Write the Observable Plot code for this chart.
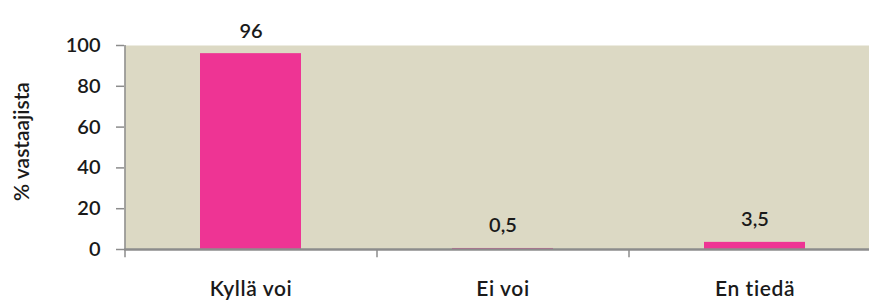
<!DOCTYPE html>
<html>
<head>
<meta charset="utf-8">
<script src="https://cdn.jsdelivr.net/npm/d3@7"></script>
<script src="https://cdn.jsdelivr.net/npm/@observablehq/plot@0.6"></script>
<style>
  html, body { margin: 0; padding: 0; background: #ffffff; }
  svg text { font-weight: 600; }
  g[aria-label="ylabel"] text { letter-spacing: 1.2px; }
  g[aria-label="x-axis tick label"] text { letter-spacing: 0.6px; }
</style>
</head>
<body>
<div id="chart"></div>
<script>
const categories = ["Kyllä voi", "Ei voi", "En tiedä"];
const values = [96, 0.5, 3.5];
const yTicks = [0, 20, 40, 60, 80, 100];
const yLabel = "% vastaajista";

const data = categories.map((c, i) => ({ c, v: values[i] }));
const fmt = v => String(v).replace(".", ",");

const xRange = [124, 880];
const step = (xRange[1] - xRange[0]) / categories.length;
const axisGray = "#8c8c8c";
const ink = "#1a1a1a";

const chart = Plot.plot({
  width: 869,
  height: 302,
  marginTop: 45,
  marginBottom: 53,
  marginLeft: 124,
  marginRight: 0,
  style: { fontFamily: "Lato, 'Open Sans', sans-serif", fontSize: "20px", color: ink, background: "#ffffff" },
  x: { domain: categories, range: xRange, paddingInner: 0.6, paddingOuter: 0.3, label: null },
  y: { domain: [0, 100], label: null },
  marks: [
    Plot.frame({ fill: "#dcd9c4", stroke: null }),
    Plot.barY(data, { x: "c", y: "v", fill: "#ee3494" }),
    Plot.ruleY([0], { stroke: axisGray, strokeWidth: 2.5 }),
    Plot.ruleX([categories[0]], { dx: -step / 2, stroke: axisGray, strokeWidth: 1.5 }),
    Plot.ruleX(categories, { x: d => d, dx: -step / 2, y1: 0, y2: -4, stroke: axisGray, strokeWidth: 1.5 }),
    Plot.axisY({
      ticks: yTicks, tickSize: 8, tickPadding: 16, stroke: axisGray, strokeWidth: 1.5,
      fontSize: 20, label: null
    }),
    Plot.text([yLabel], {
      text: d => d, frameAnchor: "left", textAnchor: "middle", lineAnchor: "middle",
      rotate: -90, dx: -102, dy: -6,
      fontSize: 21, fill: ink, ariaLabel: "ylabel"
    }),
    Plot.axisX({ tickSize: 0, tickPadding: 32, label: null, fontSize: 21 }),
    Plot.text(data, { x: "c", y: "v", text: d => fmt(d.v), dy: -16, lineAnchor: "bottom", fontSize: 20, fill: ink })
  ]
});
document.getElementById("chart").appendChild(chart);
</script>
</body>
</html>
